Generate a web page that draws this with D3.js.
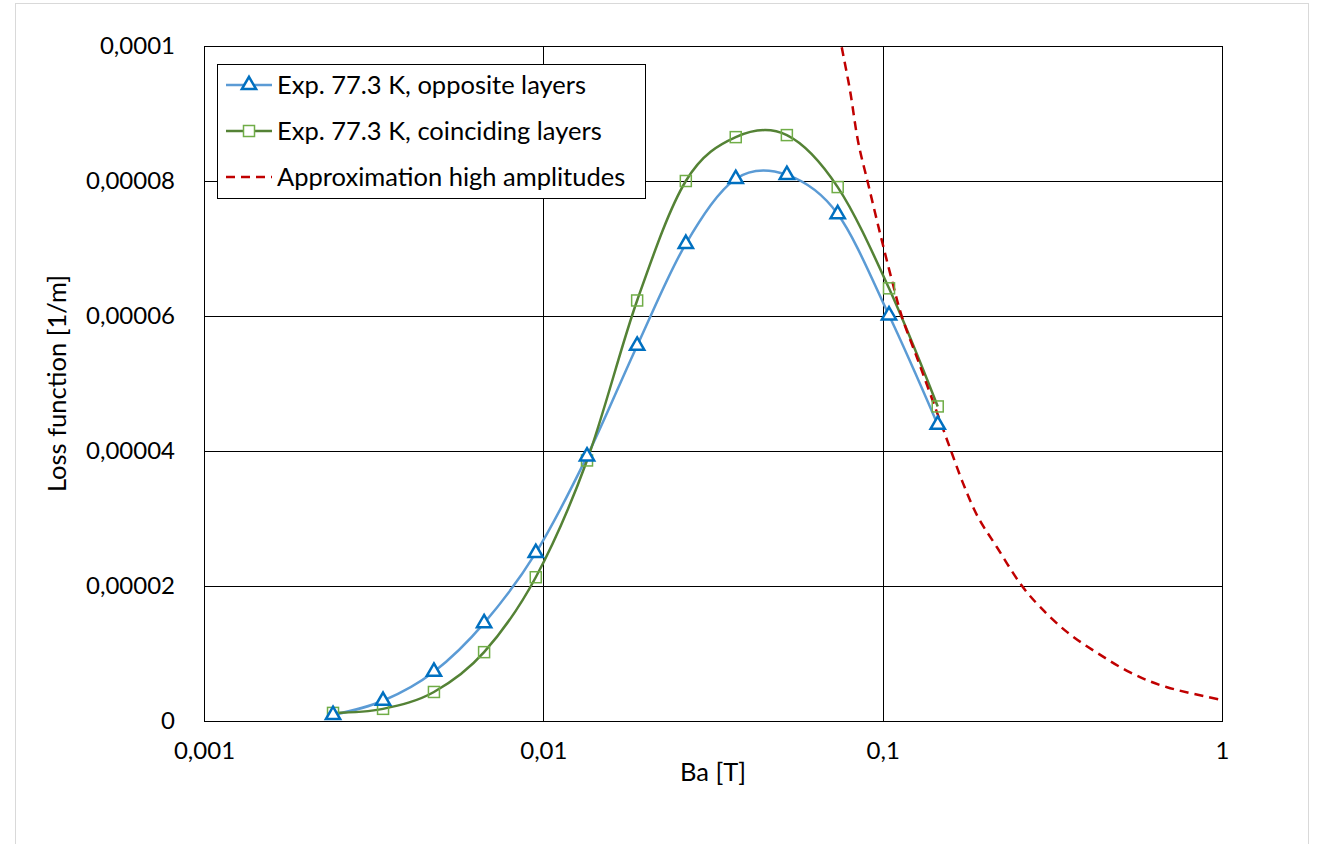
<!DOCTYPE html>
<html>
<head>
<meta charset="utf-8">
<script src="https://cdn.jsdelivr.net/npm/d3@7"></script>
<style>
  body { margin: 0; background: #fff; }
  svg { display: block; font-family: Lato, "Open Sans", sans-serif; }
</style>
</head>
<body>
<svg></svg>
<script>
// Ba [T] of measured points
const baValues = [0.0024, 0.00337, 0.00476, 0.00669, 0.0095, 0.01345, 0.0189, 0.0263, 0.0369, 0.0522, 0.0737, 0.1044, 0.1453];
// loss function [1/m]
const oppositeLayers = [0.9e-6, 3.0e-6, 7.3e-6, 14.5e-6, 24.9e-6, 39.2e-6, 55.6e-6, 70.7e-6, 80.3e-6, 80.9e-6, 75.1e-6, 60.1e-6, 43.9e-6];
const coincidingLayers = [1.2e-6, 1.8e-6, 4.3e-6, 10.2e-6, 21.3e-6, 38.6e-6, 62.3e-6, 80.0e-6, 86.5e-6, 86.8e-6, 79.1e-6, 64.1e-6, 46.6e-6];

// approximation for high amplitudes
const approxBa = [0.0745, 0.0759, 0.0802, 0.0846, 0.0906, 0.0983, 0.1066, 0.1141, 0.1263, 0.138, 0.1549, 0.1726, 0.191, 0.2174, 0.254, 0.291, 0.349, 0.4285, 0.536, 0.689, 1.0];
const approxLoss = [102e-6, 99.6e-6, 93.3e-6, 85.9e-6, 79.6e-6, 72.2e-6, 65.2e-6, 59.8e-6, 53.8e-6, 48.5e-6, 41.6e-6, 35.2e-6, 30.2e-6, 25.7e-6, 20.4e-6, 16.9e-6, 13.2e-6, 10.1e-6, 7.2e-6, 5.0e-6, 3.1e-6];

const xTicks = [0.001, 0.01, 0.1, 1];
const xTickLabels = ["0,001", "0,01", "0,1", "1"];
const yTicks = [0, 0.00002, 0.00004, 0.00006, 0.00008, 0.0001];
const yTickLabels = ["0", "0,00002", "0,00004", "0,00006", "0,00008", "0,0001"];

const legendNames = ["Exp. 77.3 K, opposite layers", "Exp. 77.3 K, coinciding layers", "Approximation high amplitudes"];

let width = 1322;
let height = 844;
let plot = { left: 204, right: 1222, top: 46, bottom: 721 };

let svg = d3.select("svg").attr("width", width).attr("height", height);

// chart area border
svg.append("rect")
  .attr("x", 15.5).attr("y", 3.5)
  .attr("width", 1293).attr("height", 900)
  .attr("fill", "#fff")
  .attr("stroke", "#d9d9d9");

let xScale = d3.scaleLog().domain([0.001, 1]).range([plot.left, plot.right]);
let yScale = d3.scaleLinear().domain([0, 0.0001]).range([plot.bottom, plot.top]);

// gridlines
svg.append("g")
  .selectAll("line")
  .data(xTicks)
  .enter()
  .append("line")
  .attr("x1", (d) => Math.round(xScale(d)) + 0.5)
  .attr("x2", (d) => Math.round(xScale(d)) + 0.5)
  .attr("y1", plot.top)
  .attr("y2", plot.bottom)
  .attr("stroke", "#000")
  .attr("stroke-width", 1);

svg.append("g")
  .selectAll("line")
  .data(yTicks)
  .enter()
  .append("line")
  .attr("x1", plot.left)
  .attr("x2", plot.right)
  .attr("y1", (d) => Math.round(yScale(d)) + 0.5)
  .attr("y2", (d) => Math.round(yScale(d)) + 0.5)
  .attr("stroke", "#000")
  .attr("stroke-width", 1);

// axes (labels only)
let xAxis = d3.axisBottom(xScale)
  .tickValues(xTicks)
  .tickSize(0)
  .tickPadding(21)
  .tickFormat((d, i) => xTickLabels[i]);
let gx = svg.append("g")
  .attr("transform", "translate(0," + plot.bottom + ")")
  .call(xAxis);

let yAxis = d3.axisLeft(yScale)
  .tickValues(yTicks)
  .tickSize(0)
  .tickPadding(29)
  .tickFormat((d, i) => yTickLabels[i]);
let gy = svg.append("g")
  .attr("transform", "translate(" + plot.left + ",0)")
  .call(yAxis);

[gx, gy].forEach((g) => {
  g.select(".domain").remove();
  g.selectAll("text")
    .attr("font-family", "Lato, sans-serif")
    .attr("font-size", 24)
    .attr("fill", "#000");
});

// plot border
svg.append("rect")
  .attr("x", plot.left + 0.5).attr("y", plot.top + 0.5)
  .attr("width", plot.right - plot.left).attr("height", plot.bottom - plot.top)
  .attr("fill", "none")
  .attr("stroke", "#000");

svg.append("defs").append("clipPath").attr("id", "clip")
  .append("rect")
  .attr("x", plot.left).attr("y", plot.top)
  .attr("width", plot.right - plot.left).attr("height", plot.bottom - plot.top);

let smooth = d3.line()
  .x((d) => xScale(d[0]))
  .y((d) => yScale(d[1]))
  .curve(d3.curveCardinal.tension(0));

let blueData = baValues.map((b, i) => [b, oppositeLayers[i]]);
let greenData = baValues.map((b, i) => [b, coincidingLayers[i]]);
let redData = approxBa.map((b, i) => [b, approxLoss[i]]);

let series = svg.append("g").attr("clip-path", "url(#clip)");

series.append("path")
  .attr("d", smooth(blueData))
  .attr("fill", "none")
  .attr("stroke", "#5B9BD5")
  .attr("stroke-width", 2.5);

series.append("path")
  .attr("d", smooth(greenData))
  .attr("fill", "none")
  .attr("stroke", "#548235")
  .attr("stroke-width", 2.5);

series.append("path")
  .attr("d", smooth(redData))
  .attr("fill", "none")
  .attr("stroke", "#C00000")
  .attr("stroke-width", 2.5)
  .attr("stroke-dasharray", "9,6");

let triangle = d3.symbol().type(d3.symbolTriangle).size(88);

let drawTriangles = (g, data) => {
  g.selectAll(".tri")
    .data(data)
    .enter()
    .append("path")
    .attr("class", "tri")
    .attr("d", triangle)
    .attr("transform", (d) => "translate(" + xScale(d[0]) + "," + yScale(d[1]) + ")")
    .attr("fill", "#fff")
    .attr("stroke", "#0070C0")
    .attr("stroke-width", 2.5);
};

let drawSquares = (g, data) => {
  g.selectAll(".sq")
    .data(data)
    .enter()
    .append("rect")
    .attr("class", "sq")
    .attr("x", (d) => xScale(d[0]) - 5.5)
    .attr("y", (d) => yScale(d[1]) - 5.5)
    .attr("width", 11)
    .attr("height", 11)
    .attr("fill", "#fff")
    .attr("fill-opacity", 0)
    .attr("stroke", "#70AD47")
    .attr("stroke-width", 1.5);
};

drawSquares(svg.append("g"), greenData);
drawTriangles(svg.append("g"), blueData);

// axis titles
svg.append("text")
  .attr("x", (plot.left + plot.right) / 2)
  .attr("y", 781)
  .attr("text-anchor", "middle")
  .attr("font-size", 25.5)
  .text("Ba [T]");

svg.append("text")
  .attr("transform", "translate(66," + (plot.top + plot.bottom) / 2 + ") rotate(-90)")
  .attr("text-anchor", "middle")
  .attr("font-size", 25.5)
  .text("Loss function [1/m]");

// legend
let legend = svg.append("g").attr("transform", "translate(217,64)");
legend.append("rect")
  .attr("x", 0.5).attr("y", 0.5)
  .attr("width", 428).attr("height", 134)
  .attr("fill", "#fff")
  .attr("stroke", "#000");

let legendRows = legend.selectAll(".row")
  .data(legendNames)
  .enter()
  .append("g")
  .attr("class", "row")
  .attr("transform", (d, i) => "translate(0," + (21 + i * 46) + ")");

legendRows.append("line")
  .attr("x1", 9).attr("x2", 55)
  .attr("y1", 0).attr("y2", 0)
  .attr("stroke", (d, i) => ["#5B9BD5", "#548235", "#C00000"][i])
  .attr("stroke-width", 2.5)
  .attr("stroke-dasharray", (d, i) => (i == 2 ? "9,6" : null));

legendRows.append("text")
  .attr("x", 60)
  .attr("y", 0)
  .attr("dy", "0.35em")
  .attr("font-size", 25.5)
  .text((d) => d);

drawTriangles(legend.append("g"), [[0, 0]]);
legend.select(".tri").attr("transform", "translate(32,21)");
drawSquares(legend.append("g"), [[0, 0]]);
legend.select(".sq").attr("x", 32 - 5.5).attr("y", 67 - 5.5).attr("fill-opacity", 1);
</script>
</body>
</html>
